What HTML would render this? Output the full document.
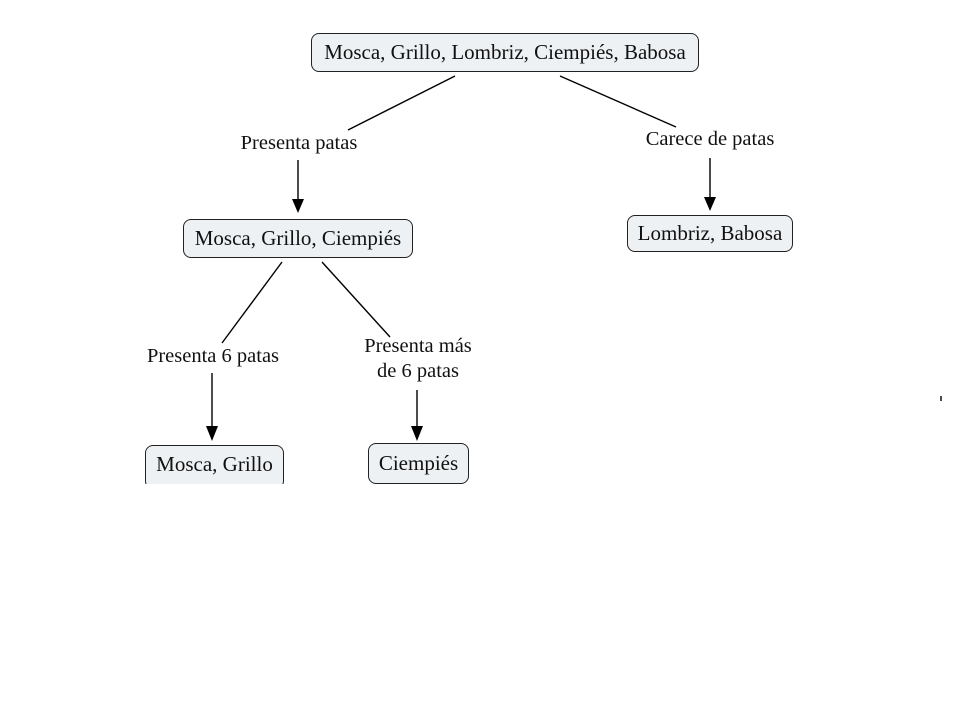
<!DOCTYPE html>
<html><head><meta charset="utf-8"><style>
body{margin:0;width:960px;height:720px;background:#fff;overflow:hidden;position:relative;font-family:"Liberation Serif",serif;}
.b{position:absolute;box-sizing:border-box;border:1.8px solid #222;border-radius:8px;background:#edf1f4;font-size:21px;display:flex;align-items:center;justify-content:center;color:#111;white-space:nowrap;}
.l{position:absolute;font-size:20.5px;color:#111;text-align:center;line-height:25px;white-space:nowrap;}
</style></head><body>
<svg width="960" height="720" style="position:absolute;left:0;top:0">
<g stroke="#000" stroke-width="1.4" fill="none">
<line x1="455" y1="76" x2="348" y2="130"/>
<line x1="560" y1="76" x2="676" y2="127"/>
<line x1="298" y1="160" x2="298" y2="202"/>
<line x1="710" y1="158" x2="710" y2="200"/>
<line x1="282" y1="262" x2="222" y2="343"/>
<line x1="322" y1="262" x2="390" y2="337"/>
<line x1="212" y1="373" x2="212" y2="428"/>
<line x1="417" y1="390" x2="417" y2="428"/>
<line x1="941" y1="396" x2="941" y2="401"/>
</g>
<g fill="#000">
<polygon points="292,199 304,199 298,213"/>
<polygon points="704,197 716,197 710,211"/>
<polygon points="206,426 218,426 212,441"/>
<polygon points="411,426 423,426 417,441"/>
</g></svg>
<div class="b" style="left:311px;top:33px;width:388px;height:39px">Mosca, Grillo, Lombriz, Ciempiés, Babosa</div>
<div class="b" style="left:183px;top:219px;width:230px;height:39px">Mosca, Grillo, Ciempiés</div>
<div class="b" style="left:627px;top:215px;width:166px;height:37px">Lombriz, Babosa</div>
<div style="position:absolute;left:140px;top:440px;width:150px;height:44px;overflow:hidden">
<div class="b" style="left:5px;top:5px;width:139px;height:44px;padding-bottom:6px">Mosca, Grillo</div></div>
<div class="b" style="left:368px;top:443px;width:101px;height:41px">Ciempiés</div>
<div class="l" style="left:216px;top:131px;width:166px">Presenta patas</div>
<div class="l" style="left:625px;top:127px;width:170px">Carece de patas</div>
<div class="l" style="left:126px;top:344px;width:174px">Presenta 6 patas</div>
<div class="l" style="left:335px;top:334px;width:166px">Presenta más<br>de 6 patas</div>
</body></html>
